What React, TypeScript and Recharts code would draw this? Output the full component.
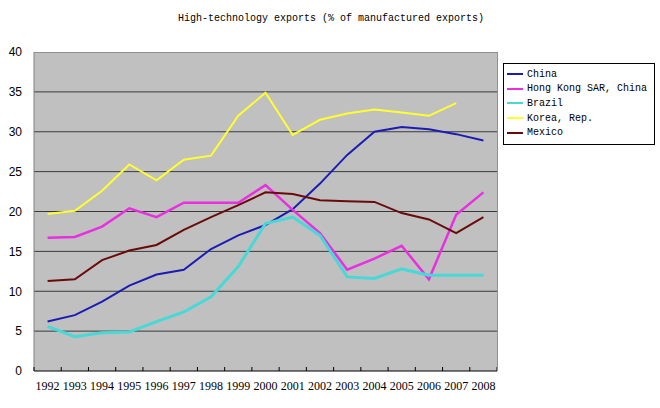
import { LineChart, Line, XAxis, YAxis, CartesianGrid } from "recharts";

const years = ["1992", "1993", "1994", "1995", "1996", "1997", "1998", "1999", "2000", "2001", "2002", "2003", "2004", "2005", "2006", "2007", "2008"];
const china = [6.2, 7.0, 8.7, 10.7, 12.1, 12.7, 15.3, 17.0, 18.3, 20.3, 23.5, 27.1, 30.0, 30.6, 30.3, 29.7, 28.9];
const hongKong = [16.7, 16.8, 18.1, 20.4, 19.3, 21.1, 21.1, 21.1, 23.3, 20.2, 17.3, 12.7, 14.1, 15.7, 11.5, 19.6, 22.4];
const brazil = [5.6, 4.3, 4.8, 4.9, 6.2, 7.4, 9.3, 13.1, 18.5, 19.3, 17.0, 11.8, 11.6, 12.8, 12.0, 12.0, 12.0];
const korea = [19.7, 20.1, 22.6, 25.9, 23.9, 26.5, 27.0, 32.0, 34.9, 29.6, 31.5, 32.3, 32.8, 32.4, 32.0, 33.6, null];
const mexico = [11.3, 11.5, 13.9, 15.1, 15.8, 17.7, 19.3, 20.8, 22.4, 22.2, 21.4, 21.3, 21.2, 19.8, 19.0, 17.3, 19.3];
const yTicks = [0, 5, 10, 15, 20, 25, 30, 35, 40];

const series = [
  { key: "china", name: "China", color: "#1c1cb4", width: 2 },
  { key: "hongKong", name: "Hong Kong SAR, China", color: "#e830e0", width: 2.5 },
  { key: "brazil", name: "Brazil", color: "#48d8d8", width: 3 },
  { key: "korea", name: "Korea, Rep.", color: "#ffff30", width: 2 },
  { key: "mexico", name: "Mexico", color: "#6a0a0a", width: 2 },
];

const data = years.map((year, i) => ({
  year,
  china: china[i],
  hongKong: hongKong[i],
  brazil: brazil[i],
  korea: korea[i],
  mexico: mexico[i],
}));

const mono = "'Liberation Mono', monospace";
const half = 13.6;

function YearTick(props: any) {
  const { x, y, payload, index } = props;
  return (
    <g>
      <line x1={x - half} x2={x - half} y1={y} y2={y - 4} stroke="#000" />
      {index === years.length - 1 && <line x1={x + half} x2={x + half} y1={y} y2={y - 4} stroke="#000" />}
      <text x={x} y={y + 19} textAnchor="middle" fontFamily="'Liberation Serif', serif" fontSize={12} fill="#000">
        {payload.value}
      </text>
    </g>
  );
}

export default function App() {
  return (
    <div style={{ position: "fixed", left: 0, top: 0, width: 660, height: 408, background: "#fff" }}>
      <div style={{ position: "absolute", left: 0, width: 660, top: 13, textAlign: "center", fontFamily: mono, fontSize: 10 }}>
        <span style={{ position: "relative", left: 1 }}>High-technology exports (% of manufactured exports)</span>
      </div>
      <LineChart width={660} height={408} data={data} margin={{ top: 52, right: 163, bottom: 0, left: 4 }}>
        <CartesianGrid vertical={false} fill="#c0c0c0" stroke="#3a3a3a" horizontalValues={[5, 10, 15, 20, 25, 30, 35]} />
        <XAxis
          dataKey="year"
          padding={{ left: half, right: half }}
          height={37}
          tickSize={0}
          tickMargin={0}
          tick={<YearTick />}
          interval={0}
          axisLine={{ stroke: "#000" }}
        />
        <YAxis
          domain={[0, 40]}
          ticks={yTicks}
          width={30}
          tickLine={false}
          axisLine={{ stroke: "#808080" }}
          tick={{ fontSize: 12, fill: "#000", fontFamily: "'Liberation Sans', sans-serif" }}
          tickMargin={6}
        />
        {series.map((s) => (
          <Line key={s.key} dataKey={s.key} name={s.name} stroke={s.color} strokeWidth={s.width} dot={false} isAnimationActive={false} />
        ))}
      </LineChart>
      <div style={{ position: "absolute", left: 34, top: 52, width: 463, height: 318, borderTop: "1px solid #909090", borderRight: "1px solid #909090", pointerEvents: "none" }} />
      <div style={{ position: "absolute", left: 503, top: 63, width: 147, border: "1px solid #000", background: "#fff", padding: "3px 0 4px 3px", fontFamily: mono, fontSize: 10 }}>
        {series.map((s) => (
          <div key={s.key} style={{ display: "flex", alignItems: "center", height: 14.6 }}>
            <span style={{ display: "inline-block", width: 16, height: 2, background: s.color, marginRight: 4 }} />
            <span>{s.name}</span>
          </div>
        ))}
      </div>
    </div>
  );
}
